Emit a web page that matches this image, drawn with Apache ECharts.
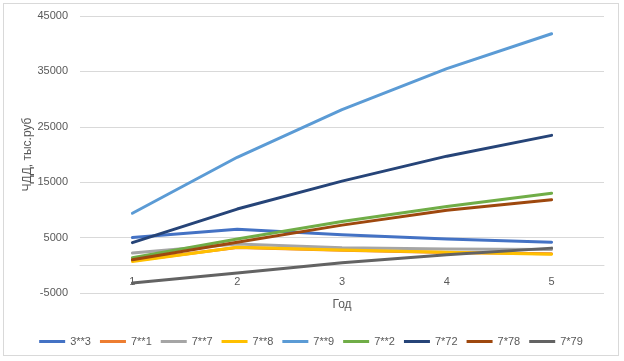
<!DOCTYPE html>
<html>
<head>
<meta charset="utf-8">
<script src="https://cdn.jsdelivr.net/npm/echarts@6/dist/echarts.min.js"></script>
<style>
  html, body { margin: 0; padding: 0; background: #fff; }
  #chart { position: absolute; left: 3px; top: 3px; width: 616px; height: 353px; border: 1px solid #d9d9d9; box-sizing: border-box; }
</style>
</head>
<body>
<div id="chart"></div>
<script>
const years = ["1", "2", "3", "4", "5"];
const seriesNames = ["3**3", "7**1", "7**7", "7**8", "7**9", "7**2", "7*72", "7*78", "7*79"];
const s3_3 = [5000, 6500, 5500, 4750, 4150];
const s7_1 = [800, 3200, 2700, 2300, 2100];
const s7_7 = [2200, 3850, 3150, 2950, 2850];
const s7_8 = [700, 3250, 2750, 2350, 2000];
const s7_9 = [9400, 19500, 28100, 35500, 41800];
const s7_2 = [1350, 4750, 7900, 10600, 13000];
const s7_72 = [4100, 10150, 15200, 19700, 23450];
const s7_78 = [1000, 4150, 7250, 9950, 11850];
const s7_79 = [-3200, -1400, 450, 1900, 3100];
const yTicks = { min: -5000, max: 45000, step: 10000 };

const allValues = [s3_3, s7_1, s7_7, s7_8, s7_9, s7_2, s7_72, s7_78, s7_79];
const colors = ["#4472C4", "#ED7D31", "#A5A5A5", "#FFC000", "#5B9BD5", "#70AD47", "#264478", "#9E480E", "#636363"];

const chart = echarts.init(document.getElementById("chart"));
const font = "Liberation Sans";

// grid geometry, used to put the category axis on the zero line
const gridTop = 12, gridBottom = 62, chartInnerH = 351;
const plotH = chartInnerH - gridTop - gridBottom;
const zeroOffset = -plotH * (0 - yTicks.min) / (yTicks.max - yTicks.min);

chart.setOption({
  animation: false,
  color: colors,
  grid: { left: 76, right: 14, top: gridTop, bottom: gridBottom },
  legend: {
    bottom: 3,
    left: "center",
    icon: "rect",
    itemWidth: 26,
    itemHeight: 3,
    itemGap: 9,
    textStyle: { fontFamily: font, fontSize: 11, color: "#595959", width: 25, padding: [10, 0, 0, 0] },
    data: seriesNames
  },
  xAxis: {
    type: "category",
    data: years,
    offset: zeroOffset,
    name: "Год",
    nameLocation: "middle",
    nameGap: 33,
    nameMoveOverlap: false,
    nameTextStyle: { fontFamily: font, fontSize: 12, color: "#595959" },
    axisLine: { onZero: false, lineStyle: { color: "#d9d9d9", width: 1 } },
    axisTick: { show: false },
    axisLabel: { fontFamily: font, fontSize: 11, color: "#595959", margin: 11 }
  },
  yAxis: {
    type: "value",
    min: yTicks.min,
    max: yTicks.max,
    interval: yTicks.step,
    name: "ЧДД, тыс.руб",
    nameLocation: "middle",
    nameGap: 46,
    nameMoveOverlap: false,
    nameTextStyle: { fontFamily: font, fontSize: 12, color: "#595959" },
    axisLine: { show: false },
    axisTick: { show: false },
    axisLabel: { fontFamily: font, fontSize: 11, color: "#595959", margin: 12, formatter: v => String(v) },
    splitLine: { lineStyle: { color: "#d9d9d9", width: 1 } }
  },
  series: seriesNames.map((name, i) => ({
    name: name,
    type: "line",
    data: allValues[i],
    showSymbol: false,
    symbol: "none",
    lineStyle: { width: 3, cap: "round", join: "round" }
  }))
});
</script>
</body>
</html>
